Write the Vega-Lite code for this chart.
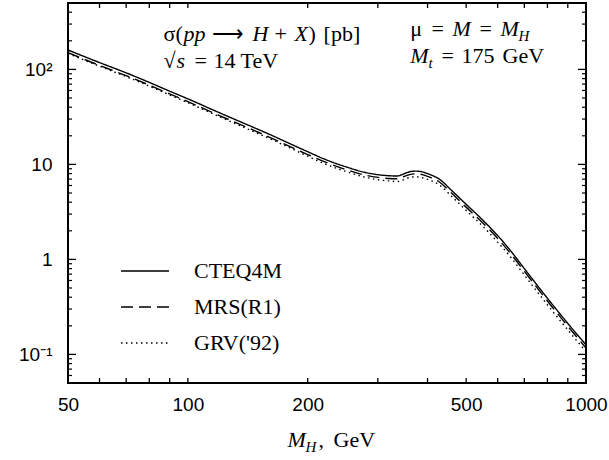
{
  "$schema": "https://vega.github.io/schema/vega-lite/v6.json",
  "width": 518,
  "height": 380,
  "autosize": {"type": "none"},
  "padding": {"left": 68, "top": 3, "right": 23, "bottom": 77},
  "config": {
    "view": {"stroke": "black", "strokeWidth": 2},
    "axis": {"grid": false, "domain": false, "ticks": false, "labelColor": "black", "labelFont": "Liberation Sans", "labelFontSize": 19, "title": null},
    "legend": {"orient": "none", "legendX": 52, "legendY": 243, "symbolType": "stroke", "symbolSize": 2304, "symbolStrokeWidth": 1.4, "symbolStrokeColor": "black", "labelFont": "Liberation Serif", "labelFontSize": 22, "labelColor": "black", "labelOffset": 24, "rowPadding": -12, "title": null}
  },
  "datasets": {
    "curves": [
      {"pdf": "CTEQ4M", "m": 50, "sigma": 160}, {"pdf": "CTEQ4M", "m": 60, "sigma": 118}, {"pdf": "CTEQ4M", "m": 70, "sigma": 92}, {"pdf": "CTEQ4M", "m": 80, "sigma": 73}, {"pdf": "CTEQ4M", "m": 90, "sigma": 59}, {"pdf": "CTEQ4M", "m": 100, "sigma": 49}, {"pdf": "CTEQ4M", "m": 120, "sigma": 35}, {"pdf": "CTEQ4M", "m": 140, "sigma": 26.5}, {"pdf": "CTEQ4M", "m": 160, "sigma": 20.8}, {"pdf": "CTEQ4M", "m": 180, "sigma": 16.6}, {"pdf": "CTEQ4M", "m": 200, "sigma": 13.6}, {"pdf": "CTEQ4M", "m": 220, "sigma": 11.4}, {"pdf": "CTEQ4M", "m": 250, "sigma": 9.4}, {"pdf": "CTEQ4M", "m": 280, "sigma": 8.2}, {"pdf": "CTEQ4M", "m": 300, "sigma": 7.8}, {"pdf": "CTEQ4M", "m": 320, "sigma": 7.6}, {"pdf": "CTEQ4M", "m": 335, "sigma": 7.55}, {"pdf": "CTEQ4M", "m": 345, "sigma": 7.8}, {"pdf": "CTEQ4M", "m": 355, "sigma": 8.2}, {"pdf": "CTEQ4M", "m": 365, "sigma": 8.45}, {"pdf": "CTEQ4M", "m": 375, "sigma": 8.5}, {"pdf": "CTEQ4M", "m": 390, "sigma": 8.3}, {"pdf": "CTEQ4M", "m": 400, "sigma": 8.0}, {"pdf": "CTEQ4M", "m": 430, "sigma": 6.9}, {"pdf": "CTEQ4M", "m": 460, "sigma": 5.3}, {"pdf": "CTEQ4M", "m": 500, "sigma": 3.8}, {"pdf": "CTEQ4M", "m": 550, "sigma": 2.6}, {"pdf": "CTEQ4M", "m": 600, "sigma": 1.78}, {"pdf": "CTEQ4M", "m": 650, "sigma": 1.2}, {"pdf": "CTEQ4M", "m": 700, "sigma": 0.8}, {"pdf": "CTEQ4M", "m": 800, "sigma": 0.39}, {"pdf": "CTEQ4M", "m": 900, "sigma": 0.212}, {"pdf": "CTEQ4M", "m": 1000, "sigma": 0.126},
      {"pdf": "MRS(R1)", "m": 50, "sigma": 150}, {"pdf": "MRS(R1)", "m": 60, "sigma": 110}, {"pdf": "MRS(R1)", "m": 70, "sigma": 86}, {"pdf": "MRS(R1)", "m": 80, "sigma": 68.3}, {"pdf": "MRS(R1)", "m": 90, "sigma": 55.2}, {"pdf": "MRS(R1)", "m": 100, "sigma": 45.8}, {"pdf": "MRS(R1)", "m": 120, "sigma": 32.7}, {"pdf": "MRS(R1)", "m": 140, "sigma": 24.8}, {"pdf": "MRS(R1)", "m": 160, "sigma": 19.4}, {"pdf": "MRS(R1)", "m": 180, "sigma": 15.5}, {"pdf": "MRS(R1)", "m": 200, "sigma": 12.7}, {"pdf": "MRS(R1)", "m": 220, "sigma": 10.7}, {"pdf": "MRS(R1)", "m": 250, "sigma": 8.8}, {"pdf": "MRS(R1)", "m": 280, "sigma": 7.67}, {"pdf": "MRS(R1)", "m": 300, "sigma": 7.3}, {"pdf": "MRS(R1)", "m": 320, "sigma": 7.1}, {"pdf": "MRS(R1)", "m": 335, "sigma": 7.06}, {"pdf": "MRS(R1)", "m": 345, "sigma": 7.3}, {"pdf": "MRS(R1)", "m": 355, "sigma": 7.67}, {"pdf": "MRS(R1)", "m": 365, "sigma": 7.9}, {"pdf": "MRS(R1)", "m": 375, "sigma": 7.95}, {"pdf": "MRS(R1)", "m": 390, "sigma": 7.76}, {"pdf": "MRS(R1)", "m": 400, "sigma": 7.48}, {"pdf": "MRS(R1)", "m": 430, "sigma": 6.45}, {"pdf": "MRS(R1)", "m": 460, "sigma": 4.96}, {"pdf": "MRS(R1)", "m": 500, "sigma": 3.55}, {"pdf": "MRS(R1)", "m": 550, "sigma": 2.43}, {"pdf": "MRS(R1)", "m": 600, "sigma": 1.66}, {"pdf": "MRS(R1)", "m": 650, "sigma": 1.12}, {"pdf": "MRS(R1)", "m": 700, "sigma": 0.75}, {"pdf": "MRS(R1)", "m": 800, "sigma": 0.365}, {"pdf": "MRS(R1)", "m": 900, "sigma": 0.198}, {"pdf": "MRS(R1)", "m": 1000, "sigma": 0.117},
      {"pdf": "GRV('92)", "m": 50, "sigma": 147}, {"pdf": "GRV('92)", "m": 60, "sigma": 108}, {"pdf": "GRV('92)", "m": 70, "sigma": 84}, {"pdf": "GRV('92)", "m": 80, "sigma": 66.8}, {"pdf": "GRV('92)", "m": 90, "sigma": 53.9}, {"pdf": "GRV('92)", "m": 100, "sigma": 44.6}, {"pdf": "GRV('92)", "m": 120, "sigma": 31.8}, {"pdf": "GRV('92)", "m": 140, "sigma": 24.0}, {"pdf": "GRV('92)", "m": 160, "sigma": 18.8}, {"pdf": "GRV('92)", "m": 180, "sigma": 15.0}, {"pdf": "GRV('92)", "m": 200, "sigma": 12.2}, {"pdf": "GRV('92)", "m": 220, "sigma": 10.2}, {"pdf": "GRV('92)", "m": 250, "sigma": 8.4}, {"pdf": "GRV('92)", "m": 280, "sigma": 7.3}, {"pdf": "GRV('92)", "m": 300, "sigma": 6.9}, {"pdf": "GRV('92)", "m": 320, "sigma": 6.7}, {"pdf": "GRV('92)", "m": 335, "sigma": 6.6}, {"pdf": "GRV('92)", "m": 345, "sigma": 6.8}, {"pdf": "GRV('92)", "m": 355, "sigma": 7.15}, {"pdf": "GRV('92)", "m": 365, "sigma": 7.35}, {"pdf": "GRV('92)", "m": 375, "sigma": 7.4}, {"pdf": "GRV('92)", "m": 390, "sigma": 7.2}, {"pdf": "GRV('92)", "m": 400, "sigma": 6.95}, {"pdf": "GRV('92)", "m": 430, "sigma": 6.0}, {"pdf": "GRV('92)", "m": 460, "sigma": 4.6}, {"pdf": "GRV('92)", "m": 500, "sigma": 3.28}, {"pdf": "GRV('92)", "m": 550, "sigma": 2.24}, {"pdf": "GRV('92)", "m": 600, "sigma": 1.52}, {"pdf": "GRV('92)", "m": 650, "sigma": 1.03}, {"pdf": "GRV('92)", "m": 700, "sigma": 0.685}, {"pdf": "GRV('92)", "m": 800, "sigma": 0.333}, {"pdf": "GRV('92)", "m": 900, "sigma": 0.181}, {"pdf": "GRV('92)", "m": 1000, "sigma": 0.107}
    ],
    "xticks": [{"v": 60}, {"v": 70}, {"v": 80}, {"v": 90}, {"v": 100}, {"v": 200}, {"v": 300}, {"v": 400}, {"v": 500}, {"v": 600}, {"v": 700}, {"v": 800}, {"v": 900}],
    "ymajor": [{"v": 0.1}, {"v": 1}, {"v": 10}, {"v": 100}],
    "yminor": [{"v": 0.06}, {"v": 0.07}, {"v": 0.08}, {"v": 0.09}, {"v": 0.2}, {"v": 0.3}, {"v": 0.4}, {"v": 0.5}, {"v": 0.6}, {"v": 0.7}, {"v": 0.8}, {"v": 0.9}, {"v": 2}, {"v": 3}, {"v": 4}, {"v": 5}, {"v": 6}, {"v": 7}, {"v": 8}, {"v": 9}, {"v": 20}, {"v": 30}, {"v": 40}, {"v": 50}, {"v": 60}, {"v": 70}, {"v": 80}, {"v": 90}, {"v": 200}, {"v": 300}, {"v": 400}],
    "regular": [
      {"t": "σ(", "x": 86.9, "y": 199}, {"t": "⟶", "x": 115.3, "y": 199}, {"t": "+", "x": 165.0, "y": 199}, {"t": ")", "x": 200.9, "y": 199}, {"t": "[pb]", "x": 219.2, "y": 199},
      {"t": "√", "x": 86.9, "y": 103.5}, {"t": "=", "x": 103.9, "y": 103.5}, {"t": "14", "x": 116.0, "y": 103.5}, {"t": "TeV", "x": 135.6, "y": 103.5},
      {"t": "μ", "x": 362, "y": 225}, {"t": "=", "x": 409.2, "y": 225}, {"t": "=", "x": 540.2, "y": 225},
      {"t": "=", "x": 433.7, "y": 116.7}, {"t": "175", "x": 486.7, "y": 116.7}, {"t": "GeV", "x": 617.2, "y": 116.7},
      {"t": ",", "x": 212.9, "y": 0.0106}, {"t": "GeV", "x": 232.2, "y": 0.0106}
    ],
    "italic": [
      {"t": "pp", "x": 97.5, "y": 199}, {"t": "H", "x": 145.3, "y": 199}, {"t": "X", "x": 185.3, "y": 199},
      {"t": "s", "x": 93.7, "y": 103.5},
      {"t": "M", "x": 462.1, "y": 225}, {"t": "M", "x": 610.1, "y": 225}, {"t": "M", "x": 362, "y": 116.7},
      {"t": "M", "x": 177.9, "y": 0.0106}
    ],
    "subscript": [
      {"t": "H", "x": 677, "y": 199}, {"t": "t", "x": 402, "y": 103.5}, {"t": "H", "x": 197.5, "y": 0.0094}
    ]
  },
  "resolve": {"axis": {"x": "independent", "y": "independent"}},
  "layer": [
    {
      "data": {"name": "curves"},
      "mark": {"type": "line", "color": "black", "strokeWidth": 1.4, "interpolate": "monotone"},
      "encoding": {
        "x": {"field": "m", "type": "quantitative", "scale": {"type": "log", "domain": [50, 1000], "nice": false},
              "axis": {"orient": "bottom", "values": [50, 100, 200, 500, 1000], "format": "d", "labelPadding": 12, "labelFlush": false, "labelOverlap": false}},
        "y": {"field": "sigma", "type": "quantitative", "scale": {"type": "log", "domain": [0.05, 500], "nice": false},
              "axis": {"orient": "left", "values": [0.1, 1, 10, 100], "labelExpr": "datum.value == 100 ? '10²' : datum.value == 10 ? '10' : datum.value == 1 ? '1' : '10⁻¹'", "labelPadding": 16, "labelOverlap": false}},
        "strokeDash": {"field": "pdf", "type": "nominal", "scale": {"domain": ["CTEQ4M", "MRS(R1)", "GRV('92)"], "range": [[1, 0], [12, 6], [1.5, 3.5]]}}
      }
    },
    {
      "data": {"name": "xticks"},
      "mark": {"type": "rule", "color": "black", "strokeWidth": 1.3},
      "encoding": {
        "x": {"field": "v", "type": "quantitative", "scale": {"type": "log", "domain": [50, 1000], "nice": false}, "axis": null},
        "y": {"datum": 0.05, "type": "quantitative", "scale": {"type": "log", "domain": [0.05, 500], "nice": false}, "axis": null},
        "y2": {"datum": 0.0565}
      }
    },
    {
      "data": {"name": "xticks"},
      "mark": {"type": "rule", "color": "black", "strokeWidth": 1.3},
      "encoding": {
        "x": {"field": "v", "type": "quantitative", "scale": {"type": "log", "domain": [50, 1000], "nice": false}, "axis": null},
        "y": {"datum": 500, "type": "quantitative", "scale": {"type": "log", "domain": [0.05, 500], "nice": false}, "axis": null},
        "y2": {"datum": 442.9}
      }
    },
    {
      "data": {"name": "ymajor"},
      "mark": {"type": "rule", "color": "black", "strokeWidth": 1.3},
      "encoding": {
        "y": {"field": "v", "type": "quantitative", "scale": {"type": "log", "domain": [0.05, 500], "nice": false}, "axis": null},
        "x": {"datum": 50, "type": "quantitative", "scale": {"type": "log", "domain": [50, 1000], "nice": false}, "axis": null},
        "x2": {"datum": 52.36}
      }
    },
    {
      "data": {"name": "ymajor"},
      "mark": {"type": "rule", "color": "black", "strokeWidth": 1.3},
      "encoding": {
        "y": {"field": "v", "type": "quantitative", "scale": {"type": "log", "domain": [0.05, 500], "nice": false}, "axis": null},
        "x": {"datum": 1000, "type": "quantitative", "scale": {"type": "log", "domain": [50, 1000], "nice": false}, "axis": null},
        "x2": {"datum": 954.8}
      }
    },
    {
      "data": {"name": "yminor"},
      "mark": {"type": "rule", "color": "black", "strokeWidth": 1.2},
      "encoding": {
        "y": {"field": "v", "type": "quantitative", "scale": {"type": "log", "domain": [0.05, 500], "nice": false}, "axis": null},
        "x": {"datum": 50, "type": "quantitative", "scale": {"type": "log", "domain": [50, 1000], "nice": false}, "axis": null},
        "x2": {"datum": 51.17}
      }
    },
    {
      "data": {"name": "yminor"},
      "mark": {"type": "rule", "color": "black", "strokeWidth": 1.2},
      "encoding": {
        "y": {"field": "v", "type": "quantitative", "scale": {"type": "log", "domain": [0.05, 500], "nice": false}, "axis": null},
        "x": {"datum": 1000, "type": "quantitative", "scale": {"type": "log", "domain": [50, 1000], "nice": false}, "axis": null},
        "x2": {"datum": 977.1}
      }
    },
    {
      "data": {"name": "regular"},
      "mark": {"type": "text", "align": "left", "baseline": "alphabetic", "font": "Liberation Serif", "fontSize": 22, "color": "black"},
      "encoding": {
        "x": {"field": "x", "type": "quantitative", "scale": {"type": "log", "domain": [50, 1000], "nice": false}, "axis": null},
        "y": {"field": "y", "type": "quantitative", "scale": {"type": "log", "domain": [0.05, 500], "nice": false}, "axis": null},
        "text": {"field": "t"}
      }
    },
    {
      "data": {"name": "italic"},
      "mark": {"type": "text", "align": "left", "baseline": "alphabetic", "font": "Liberation Serif", "fontStyle": "italic", "fontSize": 22, "color": "black"},
      "encoding": {
        "x": {"field": "x", "type": "quantitative", "scale": {"type": "log", "domain": [50, 1000], "nice": false}, "axis": null},
        "y": {"field": "y", "type": "quantitative", "scale": {"type": "log", "domain": [0.05, 500], "nice": false}, "axis": null},
        "text": {"field": "t"}
      }
    },
    {
      "data": {"name": "subscript"},
      "mark": {"type": "text", "align": "left", "baseline": "alphabetic", "font": "Liberation Serif", "fontStyle": "italic", "fontSize": 15, "color": "black"},
      "encoding": {
        "x": {"field": "x", "type": "quantitative", "scale": {"type": "log", "domain": [50, 1000], "nice": false}, "axis": null},
        "y": {"field": "y", "type": "quantitative", "scale": {"type": "log", "domain": [0.05, 500], "nice": false}, "axis": null},
        "text": {"field": "t"}
      }
    }
  ]
}
